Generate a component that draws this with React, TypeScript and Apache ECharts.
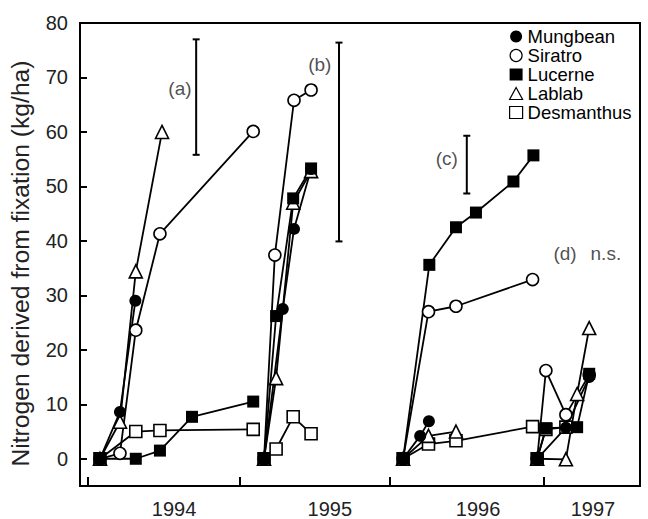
import React, { useEffect, useRef } from 'react';
import * as echarts from 'echarts';

const FONT = '"Liberation Sans", Arial, Helvetica, sans-serif';

// x values are days along the experiment's time axis (arbitrary origin)
const xMin = 0;
const xMax = 1345;
const xTickDays = [19, 384, 745, 1114];
const yearLabelDays = [226, 600, 956, 1232];
const yearLabels = ['1994', '1995', '1996', '1997'];
const yTicks = [0, 10, 20, 30, 40, 50, 60, 70, 80];

// Mungbean
const mungbean1994 = [[48, 0], [96, 8.6], [133, 29.0]];
const mungbean1995 = [[442, 0], [487, 27.5], [514, 42.2], [555, 53.2]];
const mungbean1996 = [[776, 0], [817, 4.2], [838, 6.9]];
const mungbean1997 = [[1098, 0], [1167, 5.7], [1223, 15.0]];
// Siratro
const siratro1994 = [[48, 0], [96, 1.0], [134, 23.6], [192, 41.3], [416, 60.1]];
const siratro1995 = [[442, 0], [468, 37.4], [514, 65.8], [555, 67.7]];
const siratro1996 = [[776, 0], [837, 27.0], [903, 28.0], [1087, 32.9]];
const siratro1997 = [[1098, 0], [1119, 16.2], [1167, 8.1], [1223, 15.4]];
// Lucerne
const lucerne1994 = [[48, 0], [134, 0], [192, 1.5], [269, 7.7], [416, 10.5]];
const lucerne1995 = [[442, 0], [471, 26.2], [512, 47.8], [555, 53.3]];
const lucerne1996 = [[776, 0], [839, 35.6], [903, 42.5], [951, 45.2], [1041, 50.9], [1089, 55.7]];
const lucerne1997 = [[1098, 0], [1119, 5.6], [1194, 5.8], [1223, 15.6]];
// Lablab
const lablab1994 = [[48, 0], [96, 6.8], [134, 34.4], [197, 60.0]];
const lablab1995 = [[442, 0], [471, 14.8], [512, 47.0], [555, 52.8]];
const lablab1996 = [[776, 0], [837, 4.2], [903, 5.0]];
const lablab1997 = [[1098, 0], [1167, -0.1], [1194, 11.9], [1223, 24.0]];
// Desmanthus
const desmanthus1994 = [[48, 0], [134, 5.0], [192, 5.2], [416, 5.4]];
const desmanthus1995 = [[442, 0], [471, 1.8], [512, 7.7], [555, 4.6]];
const desmanthus1996 = [[776, 0], [837, 2.7], [903, 3.3], [1087, 5.9]];
const desmanthus1997 = [[1098, 0], [1119, 5.4], [1167, 5.8]];

// LSD bars: [x, low, high]
const lsdBars = [[279, 55.8, 77.0], [622, 39.9, 76.4], [929, 48.7, 59.3]];
// annotation texts: [x, y, text]
const notes = [[240, 67.9, '(a)'], [576, 72.4, '(b)'], [881, 55.2, '(c)'], [1165, 37.7, '(d)'], [1263, 37.7, 'n.s.']];

const species = [
  { name: 'Desmanthus', symbol: 'rect', fill: '#fff', seasons: [desmanthus1994, desmanthus1995, desmanthus1996, desmanthus1997] },
  { name: 'Lablab', symbol: 'triangle', fill: '#fff', seasons: [lablab1994, lablab1995, lablab1996, lablab1997] },
  { name: 'Siratro', symbol: 'circle', fill: '#fff', seasons: [siratro1994, siratro1995, siratro1996, siratro1997] },
  { name: 'Mungbean', symbol: 'circle', fill: '#000', seasons: [mungbean1994, mungbean1995, mungbean1996, mungbean1997] },
  { name: 'Lucerne', symbol: 'rect', fill: '#000', seasons: [lucerne1994, lucerne1995, lucerne1996, lucerne1997] },
];

export default function App() {
  const ref = useRef<HTMLDivElement>(null);
  useEffect(() => {
    document.body.style.margin = '0';
    const chart = echarts.init(ref.current!, null, { renderer: 'svg' });

    const lineSeries: any[] = [];
    species.forEach((sp) => {
      sp.seasons.forEach((d) => {
        lineSeries.push({
          type: 'line',
          name: sp.name,
          data: d,
          symbol: sp.symbol,
          symbolSize: sp.symbol === 'triangle' ? 13 : 12,
          showAllSymbol: true,
          lineStyle: { color: '#000', width: 1.8 },
          itemStyle: { color: sp.fill, borderColor: '#000', borderWidth: sp.fill === '#fff' ? 1.6 : 0 },
          emphasis: { disabled: true },
          z: 3,
        });
      });
    });

    const legendIcon = (name: string, icon: string, filled: boolean) => ({
      name,
      icon,
      itemStyle: filled
        ? { color: '#000', borderWidth: 0 }
        : { color: '#fff', borderColor: '#000', borderWidth: 1.2 },
    });

    chart.setOption({
      animation: false,
      grid: { left: 80, right: 8, top: 23, bottom: 26, show: true, borderColor: '#000', borderWidth: 2, backgroundColor: 'transparent' },
      legend: {
        orient: 'vertical',
        left: 504,
        top: 22,
        itemWidth: 13,
        itemHeight: 12,
        itemGap: 0,
        selectedMode: false,
        textStyle: { fontFamily: FONT, fontSize: 18.5, color: '#000', lineHeight: 18 },
        data: [
          legendIcon('Mungbean', 'circle', true),
          legendIcon('Siratro', 'circle', false),
          legendIcon('Lucerne', 'rect', true),
          legendIcon('Lablab', 'triangle', false),
          legendIcon('Desmanthus', 'rect', false),
        ],
      },
      xAxis: {
        type: 'value',
        min: xMin,
        max: xMax,
        splitLine: { show: false },
        axisLine: { onZero: false, lineStyle: { color: '#000', width: 2 } },
        axisTick: { inside: true, length: 9, customValues: xTickDays, lineStyle: { color: '#000', width: 2 } },
        axisLabel: {
          customValues: yearLabelDays,
          margin: 13,
          fontFamily: FONT,
          fontSize: 20,
          color: '#222',
          formatter: (v: number) => yearLabels[yearLabelDays.indexOf(v)] ?? '',
        },
      },
      yAxis: {
        type: 'value',
        min: -5,
        max: 80,
        name: 'Nitrogen derived from fixation (kg/ha)',
        nameLocation: 'middle',
        nameRotate: 90,
        nameGap: 47,
        nameTextStyle: { fontFamily: FONT, fontSize: 24.7, color: '#222', padding: [0, 18, 0, 0] },
        splitLine: { show: false },
        axisLine: { onZero: false, lineStyle: { color: '#000', width: 2 } },
        axisTick: { inside: true, length: 7, customValues: yTicks, lineStyle: { color: '#000', width: 2 } },
        axisLabel: { customValues: yTicks, margin: 12, fontFamily: FONT, fontSize: 20, color: '#222' },
      },
      series: [
        ...lineSeries,
        {
          type: 'custom',
          name: 'lsd',
          data: lsdBars,
          encode: { x: 0, y: [1, 2] },
          z: 2,
          renderItem: (params: any, api: any) => {
            const x = api.value(0);
            const lo = api.coord([x, api.value(1)]);
            const hi = api.coord([x, api.value(2)]);
            const st = { stroke: '#000', lineWidth: 2 };
            return {
              type: 'group',
              children: [
                { type: 'line', shape: { x1: lo[0], y1: lo[1], x2: hi[0], y2: hi[1] }, style: st },
                { type: 'line', shape: { x1: lo[0] - 3.5, y1: lo[1], x2: lo[0] + 3.5, y2: lo[1] }, style: st },
                { type: 'line', shape: { x1: hi[0] - 3.5, y1: hi[1], x2: hi[0] + 3.5, y2: hi[1] }, style: st },
              ],
            };
          },
        },
        {
          type: 'scatter',
          name: 'notes',
          data: notes,
          symbolSize: 1,
          itemStyle: { color: 'rgba(0,0,0,0)' },
          label: {
            show: true,
            position: 'inside',
            formatter: (p: any) => p.data[2],
            fontFamily: FONT,
            fontSize: 19,
            color: '#222',
          },
          emphasis: { disabled: true },
        },
      ],
    });
    return () => chart.dispose();
  }, []);
  return <div ref={ref} style={{ width: 648, height: 519 }} />;
}
